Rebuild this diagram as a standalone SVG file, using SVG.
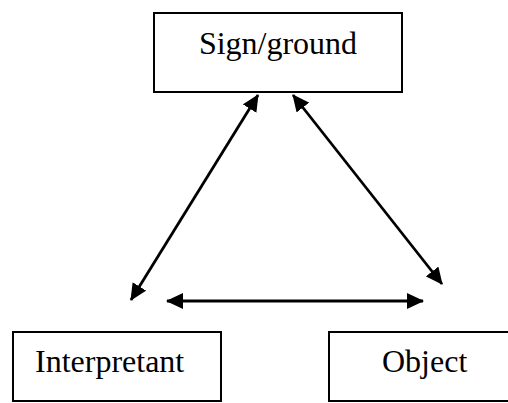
<svg xmlns="http://www.w3.org/2000/svg" width="508" height="403" viewBox="0 0 508 403">
<style>
.box{fill:#fff;stroke:#000;stroke-width:2}
.lbl{font-family:"Liberation Serif","Times New Roman",serif;font-size:32px;fill:#000}
.conn{stroke:#000;stroke-width:2.8;fill:none;marker-start:url(#ah);marker-end:url(#ah)}
</style>
<defs>
<marker id="ah" markerUnits="userSpaceOnUse" markerWidth="17" markerHeight="16" viewBox="0 0 17 16" refX="16" refY="8" orient="auto-start-reverse">
<path d="M0,0 L17,8 L0,16 z" fill="#000"/>
</marker>
</defs>
<rect width="508" height="403" fill="#fff"/>
<g id="sign">
<rect class="box" x="154" y="13" width="248" height="79"/>
<text class="lbl" x="278" y="54" text-anchor="middle">Sign/ground</text>
</g>
<g id="interpretant">
<rect class="box" x="13" y="332" width="208" height="69"/>
<text class="lbl" x="35" y="372">Interpretant</text>
</g>
<g id="object">
<rect class="box" x="329" y="332" width="184" height="69"/>
<text class="lbl" x="382" y="372">Object</text>
</g>
<g id="connectors">
<line class="conn" x1="258" y1="95" x2="131" y2="300"/>
<line class="conn" x1="293" y1="95" x2="442" y2="284"/>
<line class="conn" x1="167" y1="301" x2="423" y2="301"/>
</g>
</svg>
